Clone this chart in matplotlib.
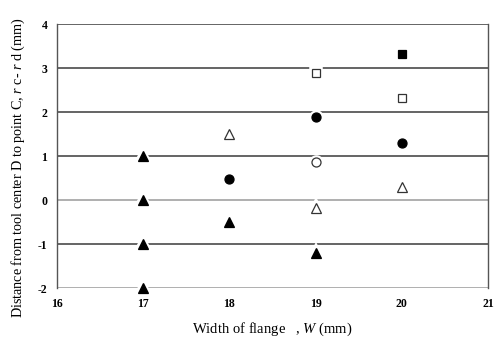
import matplotlib
matplotlib.use("Agg")
import matplotlib.pyplot as plt

plt.rcParams['font.family'] = ['Liberation Serif', 'DejaVu Serif']
plt.rcParams['mathtext.fontset'] = 'custom'
plt.rcParams['mathtext.rm'] = 'Liberation Serif'
plt.rcParams['mathtext.it'] = 'Liberation Serif:italic'
plt.rcParams['axes.unicode_minus'] = False

# series data
filled_tri_x = [17, 17, 17, 17, 18, 19]
filled_tri_y = [1.0, 0.0, -1.0, -2.0, -0.5, -1.2]
open_tri_x = [18, 19, 20]
open_tri_y = [1.5, -0.18, 0.3]
filled_circ_x = [18, 19, 20]
filled_circ_y = [0.48, 1.88, 1.3]
open_circ_x = [19]
open_circ_y = [0.86]
open_sq_x = [19, 20]
open_sq_y = [2.88, 2.33]
filled_sq_x = [20]
filled_sq_y = [3.33]

x_ticks = [16, 17, 18, 19, 20, 21]
y_ticks = [-2, -1, 0, 1, 2, 3, 4]

fig = plt.figure(figsize=(5.0, 3.43), dpi=100)
ax = fig.add_axes([0.114, 0.16, 0.862, 0.77])
ax.set_xlim(16, 21)
ax.set_ylim(-2, 4)

# gridlines
for yv in y_ticks:
    col = '#9a9a9a' if yv in (0, -2) else '#3a3a3a'
    ax.axhline(yv, color=col, lw=1.1, zorder=1)

for s in ['top', 'bottom']:
    ax.spines[s].set_visible(False)
for s in ['left', 'right']:
    ax.spines[s].set_color('#555555')
    ax.spines[s].set_linewidth(1.0)

series = [
    (filled_tri_x, filled_tri_y, '^', 'black', 7.5),
    (open_tri_x, open_tri_y, '^', 'white', 7.5),
    (filled_circ_x, filled_circ_y, 'o', 'black', 6.5),
    (open_circ_x, open_circ_y, 'o', 'white', 6.5),
    (open_sq_x, open_sq_y, 's', 'white', 6.0),
    (filled_sq_x, filled_sq_y, 's', 'black', 5.5),
]
for xs, ys, m, fc, ms in series:
    ax.plot(xs, ys, linestyle='none', marker=m, ms=ms, mfc='white',
            mec='white', mew=4, zorder=3, clip_on=False)
    ax.plot(xs, ys, linestyle='none', marker=m, ms=ms, mfc=fc,
            mec='black' if fc == 'black' else '#333333', mew=0.9, zorder=4,
            clip_on=False)

ax.set_xticks(x_ticks)
ax.set_yticks(y_ticks)
ax.tick_params(length=0, labelsize=8.5, pad=7)
for lab in ax.get_xticklabels() + ax.get_yticklabels():
    lab.set_fontweight('bold')

ax.set_xlabel(r'Width of flange   , $\it{W}$ (mm)', fontsize=10.5, labelpad=8)
ax.set_ylabel(r'Distance from tool center D to point C, $\it{r}$ c- $\it{r}$ d (mm)',
              fontsize=10.2)
ax.yaxis.set_label_coords(-0.07, 0.455)

fig.savefig('out.png', dpi=100)
